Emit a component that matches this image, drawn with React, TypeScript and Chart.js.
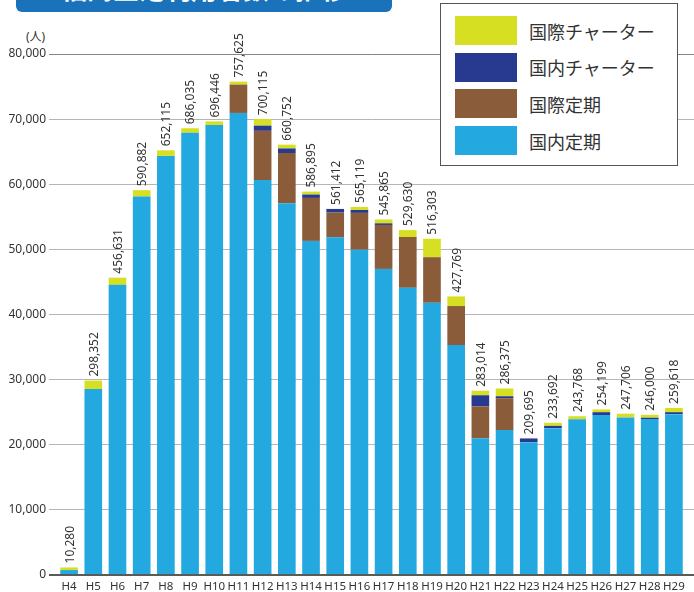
import React, { useEffect, useRef } from "react";
import { Chart, registerables } from "chart.js";

Chart.register(...registerables);

const categories = ["H4","H5","H6","H7","H8","H9","H10","H11","H12","H13","H14","H15","H16","H17","H18","H19","H20","H21","H22","H23","H24","H25","H26","H27","H28","H29"];
const domesticScheduled = [760,28550,44550,58100,64350,67900,69100,70950,60650,57100,51300,51850,49950,47000,44100,41800,35300,21000,22250,20400,22550,23900,24550,24200,23950,24700];
const intlScheduled = [0,0,0,0,0,0,0,4350,7550,7700,6600,3800,5650,6750,7800,7000,6000,4900,4900,0,0,0,0,0,0,0];
const domesticCharter = [0,0,0,0,0,0,0,0,800,700,520,560,450,250,0,0,0,1700,300,570,350,0,450,0,200,300];
const intlCharter = [400,1300,1110,990,860,700,545,460,1000,580,450,0,460,590,1060,2830,1480,700,1190,0,470,480,420,570,450,650];
const totalLabels = ["10,280","298,352","456,631","590,882","652,115","686,035","696,446","757,625","700,115","660,752","586,895","561,412","565,119","545,865","529,630","516,303","427,769","283,014","286,375","209,695","233,692","243,768","254,199","247,706","246,000","259,618"];
const seriesNames = ["国内定期","国際定期","国内チャーター","国際チャーター"];
const seriesColors = ["#24a8e0","#8a5c3a","#283a8f","#d7df23"];
const legendOrder = [3, 2, 1, 0];
const yTickMax = 80000;
const yTickStep = 10000;
const unitLabel = "(人)";
const titleText = "福島空港利用者数の推移";

const FONT = "'Noto Sans', 'Noto Sans CJK JP', sans-serif";

const gridColor = (ctx: any) => {
  const v = ctx.tick ? ctx.tick.value : null;
  if (v === 0) return "#5a5a5a";
  if (v === yTickMax) return "#858585";
  return "#b5b5b5";
};
const gridWidth = (ctx: any) => (ctx.tick && ctx.tick.value === 0 ? 2 : 1);

const labelPlugin = {
  id: "totalLabels",
  afterDatasetsDraw(chart: any) {
    const { ctx, scales } = chart;
    ctx.save();
    ctx.fillStyle = "#333";
    ctx.font = `12px ${FONT}`;
    ctx.textAlign = "left";
    ctx.textBaseline = "middle";
    categories.forEach((_, i) => {
      const total = domesticScheduled[i] + intlScheduled[i] + domesticCharter[i] + intlCharter[i];
      const x = scales.x.getPixelForValue(i);
      const y = scales.y.getPixelForValue(total);
      ctx.save();
      ctx.translate(x + 1, y - 4);
      ctx.rotate(-Math.PI / 2);
      ctx.fillText(totalLabels[i], 0, 0);
      ctx.restore();
    });
    ctx.restore();
  },
};

export default function App() {
  const ref = useRef<HTMLCanvasElement | null>(null);
  useEffect(() => {
    if (!ref.current) return;
    const data = [domesticScheduled, intlScheduled, domesticCharter, intlCharter];
    const chart = new Chart(ref.current, {
      type: "bar",
      data: {
        labels: categories,
        datasets: data.map((d, k) => ({
          label: seriesNames[k],
          data: d,
          backgroundColor: seriesColors[k],
          borderWidth: 0,
          barPercentage: 0.73,
          categoryPercentage: 1,
        })),
      },
      options: {
        responsive: false,
        animation: false,
        layout: { padding: { top: 54, left: 0, right: 0, bottom: 0 } },
        plugins: { legend: { display: false }, tooltip: { enabled: false }, title: { display: false } },
        scales: {
          x: {
            stacked: true,
            grid: { display: false, drawTicks: false },
            border: { display: false },
            ticks: { color: "#333", font: { family: FONT, size: 11.5 }, padding: 5, maxRotation: 0, autoSkip: false },
            afterFit: (s: any) => { s.height = 17; },
          },
          y: {
            stacked: true,
            min: 0,
            max: yTickMax,
            border: { display: false },
            grid: { color: gridColor, lineWidth: gridWidth, tickLength: 8, drawTicks: true },
            ticks: {
              stepSize: yTickStep,
              color: "#333",
              padding: 3,
              font: { family: FONT, size: 12 },
              callback: (v: any) => Number(v).toLocaleString("en-US"),
            },
            afterFit: (s: any) => { s.width = 57; },
          },
          y2: {
            position: "right",
            min: 0,
            max: yTickMax,
            border: { display: false },
            grid: { color: gridColor, lineWidth: gridWidth, tickLength: 8, drawOnChartArea: false, drawTicks: true },
            ticks: { stepSize: yTickStep, display: false },
            afterFit: (s: any) => { s.width = 8; },
          },
        },
      },
      plugins: [labelPlugin],
    } as any);
    return () => chart.destroy();
  }, []);

  return (
    <div style={{ position: "absolute", left: 0, top: 0, width: 694, height: 592, background: "#fff", overflow: "hidden" }}>
      <div
        style={{
          position: "absolute",
          left: 16,
          top: 0,
          width: 376,
          height: 12,
          background: "#1a72ba",
          borderRadius: "0 0 6px 6px",
          overflow: "hidden",
        }}
      >
        <div
          style={{
            position: "absolute",
            left: 0,
            width: 376,
            top: -25,
            height: 26,
            textAlign: "center",
            color: "#fff",
            fontFamily: "'Noto Sans CJK JP', sans-serif",
            fontWeight: 700,
            fontSize: 26,
            lineHeight: "26px",
            whiteSpace: "nowrap",
          }}
        >
          {titleText}
        </div>
      </div>
      <div
        style={{
          position: "absolute",
          left: 26,
          top: 30,
          fontFamily: FONT,
          fontSize: 12,
          color: "#333",
          lineHeight: "14px",
        }}
      >
        {unitLabel}
      </div>
      <canvas ref={ref} width={694} height={592} style={{ position: "absolute", left: 0, top: 0 }} />
      <div
        style={{
          position: "absolute",
          left: 440,
          top: 3,
          width: 236,
          height: 161,
          border: "1.5px solid #555",
          background: "#fff",
          boxSizing: "content-box",
        }}
      >
        {legendOrder.map((k, r) => (
          <div key={k} style={{ position: "absolute", left: 14, top: 12 + r * 36.7, height: 29, display: "flex", alignItems: "center" }}>
            <div style={{ width: 62, height: 29, background: seriesColors[k] }} />
            <div
              style={{
                marginLeft: 12,
                fontFamily: "'Noto Sans CJK JP', sans-serif",
                fontSize: 18,
                color: "#333",
                whiteSpace: "nowrap",
              }}
            >
              {seriesNames[k]}
            </div>
          </div>
        ))}
      </div>
    </div>
  );
}
